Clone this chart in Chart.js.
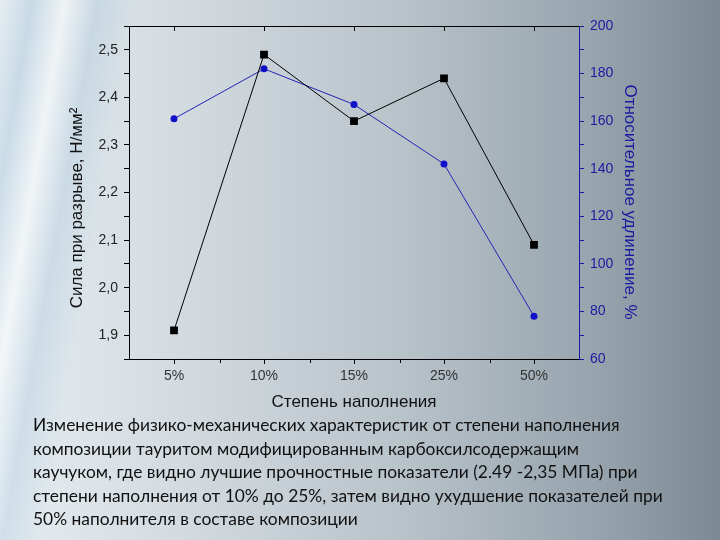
<!DOCTYPE html>
<html>
<head>
<meta charset="utf-8">
<script src="https://cdn.jsdelivr.net/npm/chart.js@4"></script>
<style>
  html, body { margin: 0; padding: 0; }
  body {
    width: 720px; height: 540px; overflow: hidden; position: relative;
    background:
      linear-gradient(100deg, rgba(120,170,205,0) 0%, rgba(120,170,205,.25) 4%, rgba(255,255,255,.5) 8%, rgba(120,170,205,.2) 12%, rgba(255,255,255,0) 17%),
      linear-gradient(90deg, #e6edf1 0%, #d3dbe0 25%, #b9c3ca 55%, #98a5ae 82%, #7c8a95 100%);
  }
  #chart { position: absolute; left: 0; top: 0; }
  #caption {
    position: absolute; left: 33px; top: 413px;
    font-family: Lato, "Open Sans", sans-serif; font-size: 17.4px; line-height: 23.5px;
    color: #111; white-space: nowrap;
  }
</style>
</head>
<body>
<canvas id="chart" width="720" height="540"></canvas>
<div id="caption">Изменение физико-механических характеристик от степени наполнения<br>композиции тауритом модифицированным карбоксилсодержащим<br>каучуком, где видно лучшие прочностные показатели (2.49 -2,35 МПа) при<br>степени наполнения от 10% до 25%, затем видно ухудшение показателей при<br>50% наполнителя в составе композиции</div>
<script>
const categories = ["5%", "10%", "15%", "25%", "50%"];
const strength = [1.91, 2.49, 2.35, 2.44, 2.09];      // Н/мм², left axis
const elongation = [161, 182, 167, 142, 78];          // %, right axis

const FONT = "'Liberation Sans', Arial, sans-serif";
const BLUE = "#1b1ba0";

// titles + top frame + minor ticks between categories
const decor = {
  id: "decor",
  afterDraw(c) {
    const g = c.ctx, a = c.chartArea, x = c.scales.x;
    g.save();
    g.strokeStyle = "#000";
    g.lineWidth = 1;
    g.beginPath();
    g.moveTo(a.left, a.top + 0.5);
    g.lineTo(a.right, a.top + 0.5);
    const step = x.getPixelForValue(1) - x.getPixelForValue(0);
    for (let i = 0; i < categories.length; i++) {
      const px = Math.round(x.getPixelForValue(i)) + 0.5;
      g.moveTo(px, a.top); g.lineTo(px, a.top + 5);
      if (i > 0) {
        const mx = Math.round(px - step / 2) + 0.5;
        g.moveTo(mx, a.bottom); g.lineTo(mx, a.bottom + 4);
      }
    }
    g.stroke();

    g.font = "17px " + FONT;
    g.textAlign = "center";
    g.textBaseline = "middle";
    g.fillStyle = "#111";
    g.fillText("Степень наполнения", (a.left + a.right) / 2, a.bottom + 43);

    g.save();
    g.translate(a.left - 52, 208);
    g.rotate(-Math.PI / 2);
    g.fillText("Сила при разрыве, Н/мм²", 0, 0);
    g.restore();

    g.save();
    g.fillStyle = BLUE;
    g.translate(a.right + 51, 202);
    g.rotate(Math.PI / 2);
    g.fillText("Относительное удлинение, %", 0, 0);
    g.restore();
    g.restore();
  }
};

new Chart(document.getElementById("chart"), {
  type: "line",
  data: {
    labels: categories,
    datasets: [{
      data: strength,
      yAxisID: "y",
      borderColor: "#000",
      backgroundColor: "#000",
      borderWidth: 1,
      tension: 0,
      pointStyle: "rect",
      pointRadius: 5.5,
      pointBorderWidth: 0
    }, {
      data: elongation,
      yAxisID: "y2",
      borderColor: "#2424b4",
      backgroundColor: "#1010c8",
      borderWidth: 1,
      tension: 0,
      pointStyle: "circle",
      pointRadius: 3.5,
      pointBorderWidth: 0
    }]
  },
  options: {
    responsive: false,
    animation: false,
    layout: { padding: { top: 26, left: 0, right: 0, bottom: 0 } },
    plugins: { legend: { display: false }, tooltip: { enabled: false } },
    scales: {
      x: {
        offset: true,
        grid: { drawOnChartArea: false, tickLength: 5, color: "#000", offset: false },
        border: { color: "#000" },
        ticks: { color: "#333", font: { family: FONT, size: 14 }, padding: 4 },
        afterFit: s => { s.height = 181; }
      },
      y: {
        position: "left",
        min: 1.85, max: 2.55,
        grid: { drawOnChartArea: false, tickLength: 5, color: "#000" },
        border: { color: "#000" },
        ticks: {
          stepSize: 0.05, maxTicksLimit: 20, color: "#222", padding: 6,
          font: { family: FONT, size: 14 },
          callback: v => {
            const r = Math.round(v * 100);
            return r % 10 === 0 ? (r / 100).toFixed(1).replace(".", ",") : "";
          }
        },
        afterFit: s => { s.width = 129; }
      },
      y2: {
        position: "right",
        min: 60, max: 200,
        grid: { drawOnChartArea: false, tickLength: 5, color: BLUE },
        border: { color: BLUE },
        ticks: {
          stepSize: 10, maxTicksLimit: 20, color: BLUE, padding: 6,
          font: { family: FONT, size: 14 },
          callback: v => (Math.round(v) % 20 === 0 ? String(Math.round(v)) : "")
        },
        afterFit: s => { s.width = 141; }
      }
    }
  },
  plugins: [decor]
});
</script>
</body>
</html>
